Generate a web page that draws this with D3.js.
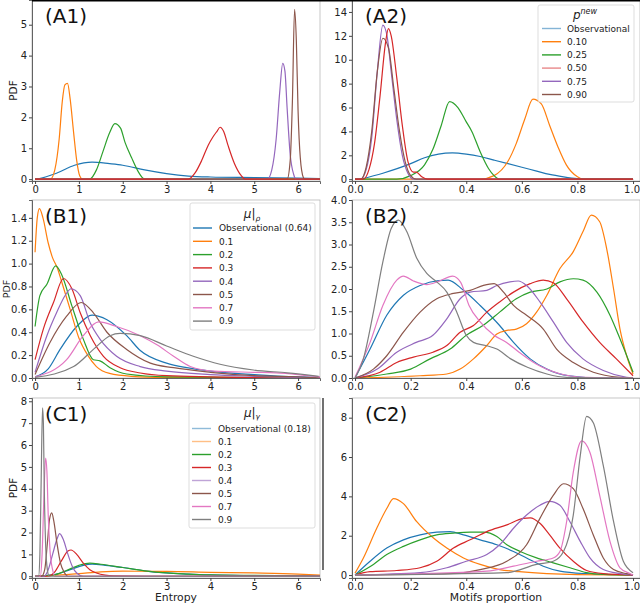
<!DOCTYPE html>
<html><head><meta charset="utf-8">
<script src="https://cdn.jsdelivr.net/npm/d3@7"></script>
<style>body{margin:0;background:#fff}svg{display:block}text{font-family:"DejaVu Sans",sans-serif}</style>
</head><body><svg id="chart" width="640" height="604"></svg>
<script>
// ---------- tick labels ----------
const entropyTicks = [0,1,2,3,4,5,6];
const propTicks = [0,0.2,0.4,0.6,0.8,1.0];
const a1YTicks = [0,1,2,3,4,5];
const a2YTicks = [0,2,4,6,8,10,12,14];
const b1YTicks = [0,0.2,0.4,0.6,0.8,1.0,1.2,1.4];
const b2YTicks = [0,0.5,1.0,1.5,2.0,2.5,3.0,3.5,4.0];
const c1YTicks = [0,1,2,3,4,5,6,7,8];
const c2YTicks = [0,2,4,6,8];

// ---------- legend labels ----------
const pNewLabels = ["Observational","0.10","0.25","0.50","0.75","0.90"];
const muRhoLabels = ["Observational (0.64)","0.1","0.2","0.3","0.4","0.5","0.7","0.9"];
const muGammaLabels = ["Observational (0.18)","0.1","0.2","0.3","0.4","0.5","0.7","0.9"];
const palette = ["#1f77b4","#ff7f0e","#2ca02c","#d62728","#9467bd","#8c564b","#e377c2","#7f7f7f"];

// ---------- A1 : entropy, p_new ----------
const a1Obs = [[0,0],[0.1,0.02],[0.5,0.2],[0.9,0.45],[1.3,0.55],[1.7,0.5],[2,0.45],[2.5,0.3],[3,0.18],[3.5,0.1],[4,0.07],[5,0.05],[6,0.03],[6.5,0.02]];
const a1P10 = [[0,0],[0.35,0],[0.45,0.3],[0.55,1.3],[0.62,2.5],[0.68,3.05],[0.74,3.1],[0.8,2.6],[0.88,1.5],[0.95,0.6],[1.02,0.1],[1.08,0],[6.5,0]];
const a1P25 = [[0,0],[1.25,0],[1.4,0.3],[1.55,0.9],[1.7,1.5],[1.82,1.8],[1.95,1.65],[2.05,1.2],[2.2,0.7],[2.35,0.25],[2.5,0],[6.5,0]];
const a1P50 = [[0,0],[3.5,0],[3.65,0.2],[3.8,0.6],[3.95,1.1],[4.05,1.35],[4.15,1.55],[4.22,1.68],[4.3,1.55],[4.4,1.1],[4.55,0.5],[4.7,0.12],[4.8,0],[6.5,0]];
const a1P75 = [[0,0],[5.3,0],[5.4,0.3],[5.5,1.3],[5.58,2.8],[5.65,3.75],[5.7,3.5],[5.75,2.3],[5.82,0.8],[5.9,0.15],[5.95,0],[6.5,0]];
const a1P90 = [[0,0],[5.75,0],[5.82,0.6],[5.87,2.5],[5.92,5.5],[5.96,4.5],[6.0,2.2],[6.05,0.7],[6.12,0.05],[6.15,0],[6.5,0]];

// ---------- A2 : motifs proportion, p_new ----------
const a2Obs = [[0.02,0],[0.1,0.5],[0.2,1.3],[0.25,1.8],[0.3,2.1],[0.35,2.2],[0.4,2.1],[0.45,1.9],[0.5,1.6],[0.55,1.3],[0.6,1.0],[0.65,0.7],[0.7,0.4],[0.75,0.2],[0.8,0.05],[0.85,0],[1,0]];
const a2P10 = [[0,0],[0.45,0],[0.5,0.3],[0.55,1.5],[0.58,3],[0.61,5],[0.64,6.7],[0.67,6.3],[0.7,4.5],[0.73,2.7],[0.76,1.2],[0.8,0.2],[0.82,0],[1,0]];
const a2P25 = [[0,0],[0.15,0],[0.2,0.3],[0.25,1.2],[0.28,2.5],[0.31,4.5],[0.34,6.5],[0.37,6.0],[0.4,4.8],[0.42,4.0],[0.45,2.3],[0.48,0.9],[0.5,0.3],[0.52,0],[1,0]];
const a2P50 = [[0,0],[0.03,0],[0.05,0.8],[0.07,3],[0.09,7],[0.11,11.5],[0.12,12.6],[0.13,12],[0.15,8.5],[0.17,4.5],[0.19,1.5],[0.21,0.6],[0.22,0.6],[0.24,0.2],[0.26,0],[1,0]];
const a2P75 = [[0,0],[0.02,0],[0.04,0.8],[0.06,3.5],[0.08,9],[0.1,12.9],[0.115,12],[0.13,9],[0.15,5],[0.17,2],[0.19,0.5],[0.21,0],[1,0]];
const a2P90 = [[0,0],[0.02,0],[0.04,1],[0.06,4],[0.08,9],[0.1,11.8],[0.12,11],[0.14,7.5],[0.16,4],[0.18,1.5],[0.2,0.3],[0.22,0],[1,0]];

// ---------- B1 : entropy, mu|rho ----------
const b1Obs = [[0,0.01],[0.3,0.08],[0.57,0.25],[0.95,0.45],[1.3,0.55],[1.64,0.51],[2.09,0.37],[2.4,0.24],[3,0.13],[3.46,0.09],[4,0.06],[5,0.03],[6,0.01],[6.5,0.005]];
const b1M01 = [[0,1.1],[0.05,1.4],[0.1,1.48],[0.18,1.4],[0.3,1.18],[0.4,1.05],[0.5,0.97],[0.6,0.85],[0.8,0.6],[1.0,0.35],[1.2,0.2],[1.4,0.1],[1.7,0.04],[2.2,0.015],[3,0.005],[6.5,0]];
const b1M02 = [[0,0.45],[0.11,0.72],[0.27,0.82],[0.47,0.98],[0.61,0.9],[0.84,0.63],[1.1,0.34],[1.33,0.16],[1.48,0.15],[1.71,0.09],[2.09,0.035],[3,0.01],[6.5,0]];
const b1M03 = [[0,0.16],[0.19,0.43],[0.42,0.66],[0.65,0.87],[0.84,0.78],[1.03,0.57],[1.26,0.37],[1.56,0.19],[1.94,0.09],[2.4,0.044],[3,0.02],[4,0.01],[6.5,0]];
const b1M04 = [[0,0.05],[0.27,0.37],[0.49,0.57],[0.7,0.73],[0.82,0.78],[1.03,0.72],[1.26,0.48],[1.48,0.34],[1.86,0.19],[2.4,0.1],[3,0.06],[4,0.03],[5,0.015],[6.5,0]];
const b1M05 = [[0,0.03],[0.34,0.31],[0.72,0.54],[1.05,0.66],[1.33,0.57],[1.64,0.4],[2.09,0.25],[2.63,0.13],[3.16,0.09],[4,0.05],[5,0.02],[6,0.01],[6.5,0]];
const b1M07 = [[0,0.01],[0.72,0.16],[1.1,0.37],[1.45,0.49],[1.86,0.45],[2.4,0.37],[2.78,0.29],[3.16,0.19],[3.54,0.1],[4.07,0.06],[5,0.05],[5.5,0.045],[6,0.03],[6.5,0.01]];
const b1M09 = [[0,0.005],[0.88,0.1],[1.33,0.25],[1.71,0.37],[1.94,0.39],[2.4,0.37],[3,0.28],[3.61,0.19],[4.22,0.12],[4.98,0.07],[5.75,0.045],[6.47,0.015]];

// ---------- B2 : motifs proportion, mu|rho ----------
const b2Obs = [[0,0],[0.054,0.65],[0.114,1.41],[0.174,1.86],[0.234,2.08],[0.3,2.19],[0.335,2.2],[0.39,1.97],[0.45,1.63],[0.52,1.18],[0.57,0.8],[0.63,0.43],[0.69,0.2],[0.77,0.05],[0.89,0],[1,0]];
const b2M01 = [[0,0],[0.234,0.05],[0.33,0.09],[0.378,0.2],[0.426,0.43],[0.474,0.73],[0.51,0.99],[0.546,1.07],[0.58,1.1],[0.617,1.22],[0.653,1.48],[0.69,1.86],[0.737,2.46],[0.785,2.84],[0.82,3.29],[0.85,3.66],[0.88,3.51],[0.905,2.91],[0.93,2.0],[0.953,1.1],[0.977,0.5],[1.0,0.09]];
const b2M02 = [[0,0],[0.114,0.09],[0.2,0.2],[0.27,0.43],[0.342,0.65],[0.4,0.96],[0.46,1.18],[0.52,1.48],[0.58,1.78],[0.63,1.93],[0.69,2.0],[0.737,2.16],[0.785,2.23],[0.82,2.2],[0.87,1.93],[0.917,1.41],[0.953,0.88],[1.0,0.13]];
const b2M03 = [[0,0],[0.09,0.13],[0.15,0.35],[0.21,0.47],[0.28,0.58],[0.33,0.73],[0.378,1.03],[0.426,1.18],[0.474,1.48],[0.52,1.71],[0.57,1.93],[0.63,2.12],[0.677,2.2],[0.713,2.14],[0.761,1.78],[0.82,1.26],[0.88,0.8],[0.94,0.43],[1.0,0.05]];
const b2M04 = [[0,0],[0.08,0.2],[0.15,0.58],[0.22,0.8],[0.28,0.96],[0.33,1.33],[0.378,1.78],[0.414,1.93],[0.474,1.97],[0.51,2.08],[0.557,2.16],[0.587,2.18],[0.617,2.08],[0.665,1.71],[0.713,1.26],[0.761,0.8],[0.82,0.43],[0.893,0.17],[0.977,0.015],[1,0]];
const b2M05 = [[0,0],[0.066,0.2],[0.114,0.5],[0.174,1.03],[0.234,1.48],[0.294,1.78],[0.354,1.9],[0.414,1.97],[0.462,2.08],[0.5,2.12],[0.534,1.93],[0.57,1.63],[0.617,1.41],[0.677,1.1],[0.725,0.65],[0.785,0.35],[0.857,0.13],[0.953,0.015],[1,0]];
const b2M07 = [[0,0.02],[0.054,0.8],[0.1,1.63],[0.15,2.2],[0.174,2.29],[0.21,2.18],[0.258,2.1],[0.3,2.17],[0.351,2.29],[0.38,2.15],[0.41,1.63],[0.45,1.26],[0.5,0.96],[0.545,0.8],[0.59,0.58],[0.65,0.32],[0.74,0.09],[0.83,0.015],[1,0]];
const b2M09 = [[0,0],[0.03,0.43],[0.066,1.48],[0.1,2.61],[0.13,3.36],[0.156,3.55],[0.186,3.29],[0.222,2.69],[0.258,2.35],[0.294,2.16],[0.33,1.93],[0.366,1.48],[0.4,0.96],[0.426,0.8],[0.47,0.73],[0.51,0.65],[0.56,0.43],[0.62,0.24],[0.69,0.09],[0.76,0.015],[1,0]];

// ---------- C1 : entropy, mu|gamma ----------
const c1Obs = [[0,0],[0.5,0.1],[0.8,0.3],[1.1,0.5],[1.3,0.55],[1.6,0.5],[2.0,0.4],[2.5,0.25],[3,0.15],[4,0.06],[5,0.03],[6.5,0.01]];
const c1M01 = [[0,0],[0.5,0.05],[1,0.12],[1.5,0.2],[2,0.23],[3,0.22],[4,0.18],[5,0.15],[6,0.1],[6.5,0.05]];
const c1M02 = [[0,0],[0.4,0.05],[0.7,0.25],[1.0,0.5],[1.25,0.6],[1.5,0.55],[2.0,0.4],[2.5,0.25],[3.0,0.15],[3.5,0.1],[4,0.06],[5,0.04],[6,0.02],[6.5,0.01]];
const c1M03 = [[0,0],[0.3,0],[0.45,0.2],[0.6,0.7],[0.75,1.15],[0.82,1.2],[0.95,1.0],[1.1,0.6],[1.25,0.3],[1.4,0.15],[1.6,0.05],[1.8,0.02],[2.5,0],[6.5,0]];
const c1M04 = [[0,0],[0.2,0],[0.3,0.3],[0.4,1.0],[0.5,1.7],[0.56,1.95],[0.65,1.65],[0.75,1.0],[0.85,0.45],[0.95,0.15],[1.1,0],[6.5,0]];
const c1M05 = [[0,0],[0.15,0],[0.22,0.3],[0.28,1.5],[0.33,2.6],[0.38,2.9],[0.43,2.5],[0.5,1.5],[0.58,0.6],[0.66,0.2],[0.75,0],[6.5,0]];
const c1M07 = [[0,0],[0.12,0],[0.16,1],[0.2,3.5],[0.24,5.4],[0.27,4.8],[0.3,2.8],[0.34,1.2],[0.4,0.3],[0.45,0],[6.5,0]];
const c1M09 = [[0,0],[0.08,0],[0.11,1],[0.14,4.5],[0.17,7.7],[0.19,7],[0.21,4],[0.24,1.5],[0.28,0.3],[0.32,0],[6.5,0]];

// ---------- C2 : motifs proportion, mu|gamma ----------
const c2Obs = [[0,0],[0.054,0.7],[0.114,1.37],[0.174,1.79],[0.234,2.04],[0.294,2.18],[0.342,2.21],[0.39,2.04],[0.45,1.79],[0.51,1.54],[0.57,1.2],[0.617,0.87],[0.677,0.45],[0.737,0.2],[0.83,0.07],[1,0]];
const c2M01 = [[0,0.1],[0.03,0.87],[0.078,2.38],[0.114,3.38],[0.138,3.89],[0.174,3.63],[0.222,2.71],[0.282,1.88],[0.33,1.37],[0.39,0.87],[0.45,0.54],[0.52,0.28],[0.59,0.17],[0.69,0.07],[0.8,0.02],[1,0]];
const c2M02 = [[0,0],[0.066,0.54],[0.114,1.04],[0.174,1.46],[0.234,1.79],[0.294,2.04],[0.354,2.13],[0.414,2.18],[0.462,2.18],[0.51,1.96],[0.546,1.54],[0.594,1.2],[0.653,0.87],[0.713,0.62],[0.773,0.37],[0.833,0.12],[0.893,0.03],[1,0]];
const c2M03 = [[0,0],[0.054,0.17],[0.15,0.23],[0.234,0.37],[0.294,0.7],[0.354,1.37],[0.414,1.79],[0.474,2.21],[0.546,2.55],[0.605,2.88],[0.63,2.91],[0.665,2.63],[0.7,2.04],[0.737,1.37],[0.785,0.7],[0.833,0.23],[0.893,0.07],[1,0]];
const c2M04 = [[0,0],[0.234,0.12],[0.33,0.37],[0.4,0.7],[0.474,1.04],[0.52,1.54],[0.57,2.38],[0.617,3.05],[0.665,3.55],[0.7,3.75],[0.737,3.55],[0.773,2.71],[0.81,1.71],[0.845,0.87],[0.893,0.28],[0.953,0.07],[1,0]];
const c2M05 = [[0,0],[0.354,0.08],[0.45,0.28],[0.546,0.7],[0.617,1.54],[0.665,2.88],[0.713,4.05],[0.75,4.64],[0.785,4.39],[0.82,3.38],[0.857,2.04],[0.893,0.87],[0.93,0.28],[0.977,0.07],[1,0]];
const c2M07 = [[0,0],[0.474,0.2],[0.57,0.45],[0.653,0.7],[0.713,0.87],[0.737,1.2],[0.761,2.71],[0.785,5.23],[0.815,6.82],[0.845,6.23],[0.88,4.05],[0.917,1.71],[0.953,0.37],[0.99,0.07],[1,0]];
const c2M09 = [[0,0],[0.546,0.12],[0.653,0.54],[0.713,0.7],[0.75,1.2],[0.785,3.05],[0.81,6.06],[0.833,8.07],[0.857,7.74],[0.893,5.56],[0.93,2.71],[0.965,0.7],[1.0,0.12]];

// ---------- panel assembly ----------
const panels = [
  {label:"(A1)", box:[32,0,320,181], xd:[-0.07,6.5], yd:[-0.06,5.8], xt:entropyTicks, yt:a1YTicks, xf:d3.format("d"), yf:d3.format("d"), ylab:"PDF", ylabX:13, ylabSize:10.5,
   series:[a1Obs,a1P10,a1P25,a1P75,a1P90,a1P50], cols:[0,1,2,4,5,3]},
  {label:"(A2)", box:[352,0,640,181], xd:[-0.011,1.025], yd:[-0.15,15.0], xt:propTicks, yt:a2YTicks, xf:d3.format(".1f"), yf:d3.format("d"),
   series:[a2Obs,a2P10,a2P25,a2P75,a2P90,a2P50], cols:[0,1,2,4,5,3],
   legend:{box:[538,5,634,102], titleY:19, titleX:585, title:"pnew", labels:pNewLabels, cols:[0,1,2,3,4,5], y0:28.5, dy:13.2, lx:542, tx:567, alpha:[0.55,1,1,0.55,1,1]}},
  {label:"(B1)", box:[32,200,320,378], xd:[-0.07,6.5], yd:[0,1.556], xt:entropyTicks, yt:b1YTicks, xf:d3.format("d"), yf:d3.format(".1f"), ylab:"PDF", ylabX:6, ylabSize:9.5,
   series:[b1Obs,b1M01,b1M02,b1M03,b1M04,b1M05,b1M07,b1M09], cols:[0,1,2,3,4,5,6,7],
   legend:{box:[190,203,315,330], titleY:218, titleX:252, title:"rho", labels:muRhoLabels, cols:[0,1,2,3,4,5,6,7], y0:228, dy:13.3, lx:193, tx:219, alpha:[1,1,1,1,1,1,1,1]}},
  {label:"(B2)", box:[352,200,640,378], xd:[-0.011,1.025], yd:[0,4.0], xt:propTicks, yt:b2YTicks, xf:d3.format(".1f"), yf:d3.format(".1f"),
   series:[b2Obs,b2M01,b2M02,b2M03,b2M04,b2M05,b2M07,b2M09], cols:[0,1,2,3,4,5,6,7]},
  {label:"(C1)", box:[32,398,320,578], xd:[-0.07,6.5], yd:[-0.08,8.15], xt:entropyTicks, yt:c1YTicks, xf:d3.format("d"), yf:d3.format("d"), ylab:"PDF", ylabX:13, ylabSize:10.5, xlab:"Entropy",
   series:[c1Obs,c1M01,c1M02,c1M03,c1M04,c1M05,c1M07,c1M09], cols:[0,1,2,3,4,5,6,7],
   legend:{box:[189,403,315,528], titleY:416.5, titleX:252, title:"gamma", labels:muGammaLabels, cols:[0,1,2,3,4,5,6,7], y0:428.5, dy:13.0, lx:192, tx:218, alpha:[0.5,0.5,1,1,0.6,1,1,1]}},
  {label:"(C2)", box:[352,398,640,578], xd:[-0.011,1.025], yd:[-0.15,9.0], xt:propTicks, yt:c2YTicks, xf:d3.format(".1f"), yf:d3.format("d"), xlab:"Motifs proportion",
   series:[c2Obs,c2M01,c2M02,c2M03,c2M04,c2M05,c2M07,c2M09], cols:[0,1,2,3,4,5,6,7]}
];

const svg = d3.select("#chart");
svg.append("rect").attr("width",640).attr("height",604).attr("fill","#fff");

panels.forEach((p,pi)=>{
  const [x0,y0,x1,y1] = p.box;
  const x = d3.scaleLinear().domain(p.xd).range([x0,x1]);
  const y = d3.scaleLinear().domain(p.yd).range([y1,y0]);
  const g = svg.append("g");
  const cid = "clip"+pi;
  svg.append("clipPath").attr("id",cid).append("rect").attr("x",x0).attr("y",y0).attr("width",x1-x0).attr("height",y1-y0);
  // frame
  g.append("rect").attr("x",x0).attr("y",y0).attr("width",x1-x0).attr("height",y1-y0)
    .attr("fill","none").attr("stroke","#b8b8b8").attr("stroke-width",0.8);
  // axes
  const xa = g.append("g").attr("transform",`translate(0,${y1})`)
    .call(d3.axisBottom(x).tickValues(p.xt).tickFormat(p.xf).tickSize(3).tickPadding(2));
  const ya = g.append("g").attr("transform",`translate(${x0},0)`)
    .call(d3.axisLeft(y).tickValues(p.yt).tickFormat(p.yf).tickSize(3).tickPadding(2));
  [xa,ya].forEach(a=>{
    a.selectAll("text").attr("font-size",10).attr("fill","#222").attr("font-family","DejaVu Sans");
    a.selectAll("line").attr("stroke","#444");
    a.select(".domain").attr("stroke","#555").attr("stroke-width",0.9);
  });
  // keep the last x tick label inside the canvas
  xa.selectAll(".tick text").each(function(){
    const bb = this.getBBox();
    const tx = x(d3.select(this.parentNode).datum());
    const right = tx + bb.x + bb.width;
    if(right > 639.5) d3.select(this).attr("dx", (639.5 - right) + "px");
  });
  // curves
  const line = d3.line().x(d=>x(d[0])).y(d=>y(d[1])).curve(d3.curveMonotoneX);
  const cg = g.append("g").attr("clip-path",`url(#${cid})`);
  p.series.forEach((s,i)=>{
    cg.append("path").attr("d",line(s)).attr("fill","none")
      .attr("stroke",palette[p.cols[i]]).attr("stroke-width",1.2).attr("stroke-linejoin","round");
  });
  // panel label
  g.append("text").attr("x",x0+13).attr("y",y0+23).attr("font-family","Liberation Sans, Arial, sans-serif")
    .attr("font-size",20).attr("fill","#111").text(p.label);
  if(p.ylab){
    g.append("text").attr("transform",`translate(${p.ylabX+4},${(y0+y1)/2}) rotate(-90)`).attr("text-anchor","middle")
      .attr("font-size",p.ylabSize).attr("fill","#222").text(p.ylab);
  }
  if(p.xlab){
    g.append("text").attr("x",(x0+x1)/2).attr("y",601).attr("text-anchor","middle")
      .attr("font-size",10.8).attr("fill","#222").text(p.xlab);
  }
  if(p.legend){
    const L = p.legend;
    const lg = g.append("g");
    lg.append("rect").attr("x",L.box[0]).attr("y",L.box[1]).attr("width",L.box[2]-L.box[0]).attr("height",L.box[3]-L.box[1])
      .attr("rx",2).attr("fill","#fff").attr("fill-opacity",0.85).attr("stroke","#d4d4d4").attr("stroke-width",0.8);
    const t = lg.append("text").attr("x",L.titleX).attr("y",L.titleY).attr("text-anchor","middle").attr("fill","#222");
    if(L.title==="pnew"){
      t.append("tspan").attr("font-style","italic").attr("font-size",12).text("p");
      t.append("tspan").attr("font-style","italic").attr("font-size",8).attr("dy",-5).text("new");
    } else {
      t.append("tspan").attr("font-style","italic").attr("font-size",12).text("μ");
      t.append("tspan").attr("font-size",12).text("|");
      t.append("tspan").attr("font-style","italic").attr("font-size",7.5).attr("dy",2.5).text(L.title==="rho"?"ρ":"γ");
    }
    L.labels.forEach((lab,i)=>{
      const yy = L.y0 + i*L.dy;
      lg.append("line").attr("x1",L.lx).attr("x2",L.lx+19).attr("y1",yy).attr("y2",yy)
        .attr("stroke",palette[L.cols[i]]).attr("stroke-width",1.4).attr("stroke-opacity",L.alpha[i]);
      lg.append("text").attr("x",L.tx).attr("y",yy+3.3).attr("font-size",9).attr("fill","#222").text(lab);
    });
  }
});
// top black rule on the A row and dark spine fragment beside C2
svg.append("line").attr("x1",32).attr("x2",640).attr("y1",0.8).attr("y2",0.8).attr("stroke","#000").attr("stroke-width",1.6);
svg.append("line").attr("x1",323).attr("x2",323).attr("y1",398).attr("y2",570).attr("stroke","#111").attr("stroke-width",1.2);
</script></body></html>
